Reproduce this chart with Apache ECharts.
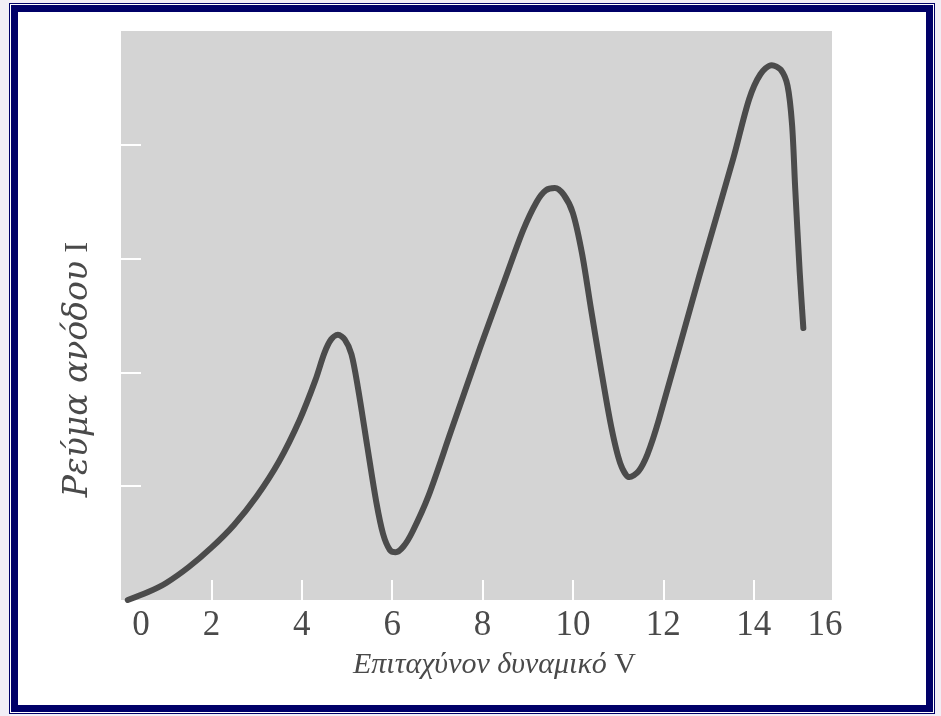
<!DOCTYPE html>
<html>
<head>
<meta charset="utf-8">
<script src="https://cdn.jsdelivr.net/npm/echarts@6/dist/echarts.min.js"></script>
<style>
  html, body { margin: 0; padding: 0; background: #f1eef6; }
  #frame {
    position: absolute; left: 9px; top: 3px; width: 926px; height: 711px;
    border: 1px solid #000068; background: #ffffff; box-sizing: border-box;
  }
  #frame .inner {
    position: absolute; left: 1px; top: 1px; right: 1px; bottom: 1px;
    border: 7px solid #000068; background: #ffffff;
  }
  #chart { position: absolute; left: 0; top: 0; width: 941px; height: 716px; }
</style>
</head>
<body>
<div id="frame"><div class="inner"></div></div>
<div id="chart"></div>
<script>
// Franck-Hertz curve: anode current vs accelerating voltage
const voltage = [0.15, 0.6, 1.0, 1.5, 2.0, 2.5, 3.0, 3.5, 3.95, 4.3, 4.5, 4.65, 4.8, 4.95, 5.1, 5.25, 5.45,
  5.65, 5.8, 5.95, 6.08, 6.25, 6.45, 6.8, 7.3, 7.95, 8.5, 8.9, 9.2, 9.4, 9.6, 9.8, 10.0, 10.2, 10.4, 10.6,
  10.85, 11.05, 11.25, 11.45, 11.65, 11.9, 12.8, 13.55, 13.9, 14.15, 14.4, 14.6, 14.75, 14.85, 14.92, 15.02, 15.1];
const current = [0, 0.07, 0.15, 0.29, 0.46, 0.66, 0.91, 1.22, 1.58, 1.93, 2.17, 2.29, 2.33, 2.29, 2.16, 1.85, 1.35,
  0.86, 0.58, 0.44, 0.42, 0.47, 0.60, 0.91, 1.48, 2.22, 2.82, 3.25, 3.50, 3.60, 3.62, 3.56, 3.40, 3.05, 2.56, 2.08,
  1.52, 1.20, 1.08, 1.13, 1.28, 1.58, 2.85, 3.88, 4.40, 4.62, 4.70, 4.66, 4.52, 4.18, 3.62, 2.88, 2.39];
const xTickValues = [2, 4, 6, 8, 10, 12, 14];
const yTickValues = [1, 2, 3, 4];
const xTitle = 'Επιταχύνον δυναμικό';
const yTitle = 'Ρεύμα ανόδου';

const chart = echarts.init(document.getElementById('chart'));

const serif = "'Liberation Serif', 'DejaVu Serif', serif";
const wideSerif = "'DejaVu Serif', 'Liberation Serif', serif";

const option = {
  animation: false,
  grid: { left: 121, right: 97, top: 31, bottom: 116 },
  graphic: [{
    type: 'rect',
    z: -10,
    shape: { x: 121, y: 31, width: 711, height: 569 },
    style: { fill: '#d4d4d4' }
  }],
  xAxis: {
    type: 'value',
    min: 0,
    max: 16,
    interval: 2,
    splitLine: { show: false },
    axisLine: { show: false },
    axisTick: {
      show: true, inside: true, length: 20,
      customValues: xTickValues,
      lineStyle: { color: '#ffffff', width: 2 }
    },
    axisLabel: {
      margin: 8,
      color: '#4a4a4a',
      fontFamily: serif,
      fontSize: 35,
      formatter: function (v) {
        if (v === 0) return '{first|0}';
        if (v === 16) return '{last|16}';
        return String(v);
      },
      rich: {
        first: { fontFamily: serif, fontSize: 35, color: '#4a4a4a', padding: [0, 0, 0, 40] },
        last: { fontFamily: serif, fontSize: 35, color: '#4a4a4a', padding: [0, 38, 0, 0] }
      }
    },
    name: '{it|' + xTitle + '}{up|\u00a0V}',
    nameLocation: 'middle',
    nameGap: 50,
    nameTextStyle: {
      rich: {
        it: { fontFamily: serif, fontStyle: 'italic', fontSize: 30, color: '#4a4a4a', padding: [0, 0, 0, 24] },
        up: { fontFamily: serif, fontSize: 30, color: '#4a4a4a' }
      }
    }
  },
  yAxis: {
    type: 'value',
    min: 0,
    max: 5,
    interval: 1,
    splitLine: { show: false },
    axisLine: { show: false },
    axisLabel: { show: false },
    axisTick: {
      show: true, inside: true, length: 20,
      customValues: yTickValues,
      lineStyle: { color: '#ffffff', width: 2 }
    },
    name: '{it|' + yTitle + '}{up|\u00a0I}',
    nameLocation: 'middle',
    nameGap: 26,
    nameRotate: 90,
    nameTextStyle: {
      rich: {
        it: { fontFamily: wideSerif, fontStyle: 'italic', fontSize: 33, color: '#4a4a4a' },
        up: { fontFamily: serif, fontSize: 33, color: '#4a4a4a', padding: [0, 108, 0, 0] }
      }
    }
  },
  series: [{
    type: 'line',
    data: voltage.map((v, i) => [v, current[i]]),
    smooth: 0.3,
    showSymbol: false,
    lineStyle: { color: '#4b4b4b', width: 6, cap: 'round', join: 'round' }
  }]
};

chart.setOption(option);
window.addEventListener('resize', function () { chart.resize(); });
</script>
</body>
</html>
